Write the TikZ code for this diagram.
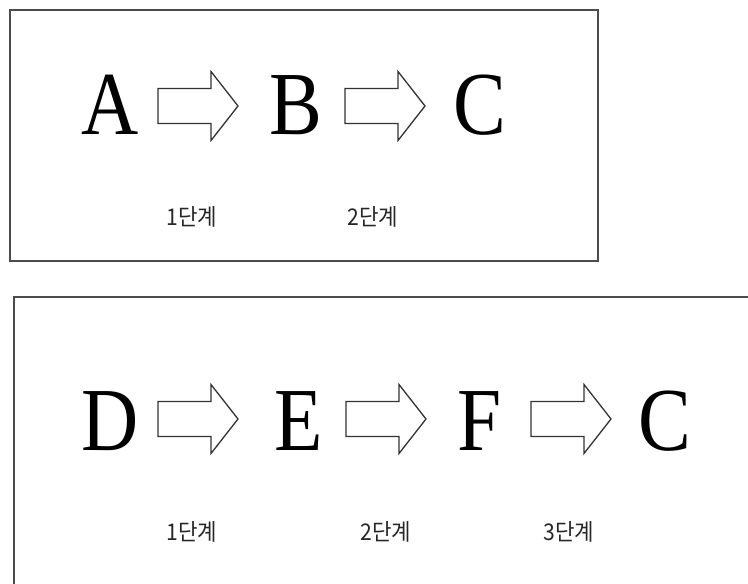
\documentclass[tikz,border=0pt]{standalone}
\usepackage{fontspec}
\setmainfont{Liberation Serif}
\newfontfamily\bigletter[FakeStretch=0.88]{Liberation Serif}
\newfontfamily\kofont[FakeStretch=0.92]{Noto Sans CJK KR}
\begin{document}
\begin{tikzpicture}[x=1pt,y=-1pt,
  frame/.style={draw=black!70,line width=1.6pt},
  letter/.style={anchor=base,inner sep=0pt,font=\bigletter\fontsize{90}{90}\selectfont},
  steplabel/.style={inner sep=0pt,text=black!85,font=\kofont\fontsize{23}{23}\selectfont},
  blockarrow/.style={draw=black!80,line width=1.3pt,line join=miter,fill=white}]
\useasboundingbox (0,0) rectangle (748,584);
% frames
\node[frame,minimum width=588pt,minimum height=251pt,anchor=north west,inner sep=0pt] (top) at (9,9) {};
\coordinate (bl) at (14,584);
\coordinate (btl) at (14,297);
\coordinate (btr) at (748,297);
\draw[draw=black!70,line width=1.6pt] (bl) -- (btl) -- (btr);
% top row letters
\node[letter] (A) at (110.5,134) {A};
\node[letter] (B) at (295.5,134) {B};
\node[letter] (C1) at (480,134) {C};
% bottom row letters
\node[letter] (D) at (110.5,450) {D};
\node[letter] (E) at (298.5,450) {E};
\node[letter] (F) at (480,450) {F};
\node[letter] (C2) at (665,450) {C};
% block arrows
\foreach \name/\x/\y in {a1/158/106, a2/345/106, b1/158/419, b2/346/419, b3/531/419}{
  \coordinate (\name) at (\x,\y);
  \draw[blockarrow] (\name) ++(0,-17.5) -- ++(53,0) -- ++(0,-17) -- ++(27,34.5)
     -- ++(-27,34.5) -- ++(0,-17) -- ++(-53,0) -- cycle;
}
% labels
\node[steplabel] (l1) at (192,217) {1단계};
\node[steplabel] (l2) at (373,217) {2단계};
\node[steplabel] (m1) at (192,532) {1단계};
\node[steplabel] (m2) at (386,532) {2단계};
\node[steplabel] (m3) at (569,532) {3단계};
\end{tikzpicture}
\end{document}
